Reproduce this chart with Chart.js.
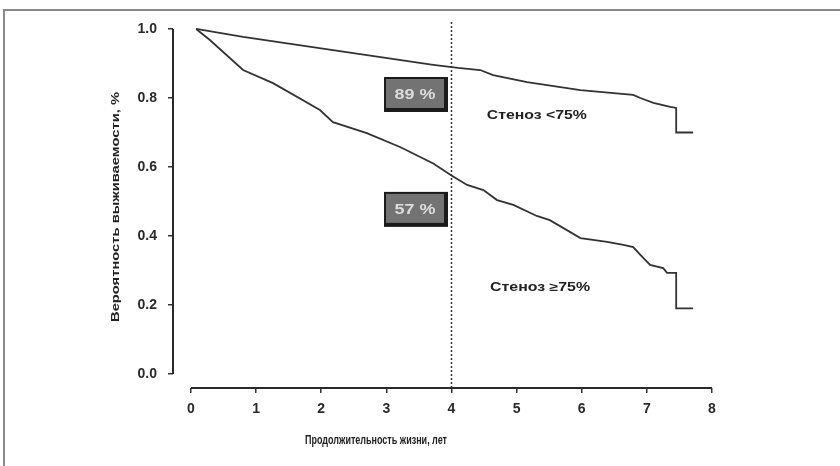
<!DOCTYPE html>
<html>
<head>
<meta charset="utf-8">
<script src="https://cdn.jsdelivr.net/npm/chart.js@4/dist/chart.umd.min.js"></script>
<style>
  html, body { margin: 0; padding: 0; background: #fff; }
  #wrap { width: 840px; height: 466px; position: relative; }
</style>
</head>
<body>
<div id="wrap"><canvas id="survivalChart"></canvas></div>
<script>
// Survival, stenosis < 75%
const mildX = [0.08, 0.8, 2.18, 3.72, 4.1, 4.44, 4.64, 5.16, 5.98, 6.79, 6.9, 7.1, 7.36, 7.45, 7.45, 7.71]
const mildY = [1.0, 0.977, 0.939, 0.896, 0.887, 0.881, 0.866, 0.846, 0.823, 0.809, 0.8, 0.786, 0.774, 0.771, 0.70, 0.70]

// Survival, stenosis >= 75%
const severeX = [0.08, 0.29, 0.8, 1.26, 1.98, 2.18, 2.7, 3.21, 3.72, 4.0, 4.24, 4.49, 4.7, 4.95, 5.31, 5.51, 5.98, 6.39, 6.64, 6.79, 6.9, 7.05, 7.25, 7.31, 7.45, 7.45, 7.71]
const severeY = [1.0, 0.968, 0.881, 0.843, 0.765, 0.73, 0.698, 0.658, 0.61, 0.575, 0.548, 0.533, 0.504, 0.49, 0.458, 0.446, 0.394, 0.383, 0.374, 0.368, 0.345, 0.316, 0.307, 0.293, 0.293, 0.19, 0.19]

const xTicks = [0, 1, 2, 3, 4, 5, 6, 7, 8]
const yTicks = [0, 0.2, 0.4, 0.6, 0.8, 1.0]
const markerYear = 4

const boxLabels = ['89 %', '57 %']
const boxX = [3.44, 3.44]
const boxY = [0.813, 0.48]

const groupLabels = ['Стеноз <75%', 'Стеноз ≥75%']
const groupX = [5.31, 5.36]
const groupY = [0.748, 0.249]

const xTitle = 'Продолжительность жизни, лет'
const yTitle = 'Вероятность выживаемости, %'

const Y_MIN = -0.0406, Y_MAX = 1.026
const X_MIN = -0.276, X_MAX = 8

const FONT = '"Liberation Sans", Arial, sans-serif'

const toPoints = (xs, ys) => xs.map((x, i) => ({ x: x, y: ys[i] }))

// Draw text squeezed/stretched to a given width (centred on x, y)
function drawFitted(ctx, text, x, y, width, rotate) {
  ctx.save()
  ctx.translate(x, y)
  if (rotate) ctx.rotate(-Math.PI / 2)
  const w = ctx.measureText(text).width
  ctx.scale(width / w, 1)
  ctx.textAlign = 'center'
  ctx.fillText(text, 0, 0)
  ctx.restore()
}

const decorPlugin = {
  id: 'decor',
  beforeDraw(chart) {
    const ctx = chart.ctx
    ctx.save()
    ctx.fillStyle = '#fff'
    ctx.fillRect(0, 0, chart.width, chart.height)
    // page frame
    ctx.strokeStyle = '#8a8a8a'
    ctx.lineWidth = 2
    ctx.beginPath()
    ctx.moveTo(4, chart.height)
    ctx.lineTo(4, 10)
    ctx.lineTo(chart.width, 10)
    ctx.stroke()
    ctx.restore()
  },
  afterDraw(chart) {
    const ctx = chart.ctx
    const xs = chart.scales.x, ys = chart.scales.y
    const area = chart.chartArea
    ctx.save()
    // axis lines (offset style)
    ctx.strokeStyle = '#2a2a2a'
    ctx.lineWidth = 2
    ctx.beginPath()
    ctx.moveTo(area.left, ys.getPixelForValue(0))
    ctx.lineTo(area.left, ys.getPixelForValue(1))
    ctx.moveTo(xs.getPixelForValue(0), area.bottom)
    ctx.lineTo(xs.getPixelForValue(8), area.bottom)
    ctx.stroke()

    // value boxes
    ctx.textBaseline = 'middle'
    boxLabels.forEach((label, i) => {
      const cx = xs.getPixelForValue(boxX[i])
      const cy = ys.getPixelForValue(boxY[i])
      const w = 62, h = 33
      ctx.fillStyle = '#1a1a1a'
      ctx.fillRect(cx - w / 2, cy - h / 2, w + 2, h + 2)
      ctx.fillStyle = '#737373'
      ctx.fillRect(cx - w / 2 + 2, cy - h / 2 + 2, w - 4, h - 4)
      ctx.fillStyle = '#dcdcdc'
      ctx.font = 'bold 15px ' + FONT
      drawFitted(ctx, label, cx, cy + 1, 41, false)
    })

    // group labels
    ctx.fillStyle = '#222'
    ctx.font = 'bold 12px ' + FONT
    groupLabels.forEach((label, i) => {
      drawFitted(ctx, label, xs.getPixelForValue(groupX[i]), ys.getPixelForValue(groupY[i]), 100, false)
    })

    // axis titles
    ctx.font = 'bold 12px ' + FONT
    drawFitted(ctx, xTitle, 376, 441, 142, false)
    ctx.font = 'bold 11px ' + FONT
    drawFitted(ctx, yTitle, 116, 207, 230, true)
    ctx.restore()
  }
}

const curveStyle = {
  borderColor: '#333',
  borderWidth: 1.8,
  pointRadius: 0,
  tension: 0,
  fill: false
}

new Chart(document.getElementById('survivalChart'), {
  type: 'line',
  data: {
    datasets: [
      Object.assign({ label: groupLabels[0], data: toPoints(mildX, mildY) }, curveStyle),
      Object.assign({ label: groupLabels[1], data: toPoints(severeX, severeY) }, curveStyle),
      {
        label: 'marker',
        data: [{ x: markerYear, y: Y_MIN }, { x: markerYear, y: Y_MAX }],
        borderColor: '#333',
        borderWidth: 1.5,
        borderDash: [2, 2],
        pointRadius: 0,
        fill: false
      }
    ]
  },
  options: {
    responsive: true,
    maintainAspectRatio: false,
    animation: false,
    layout: { padding: { top: 20, right: 128, bottom: 0, left: 0 } },
    plugins: {
      legend: { display: false },
      tooltip: { enabled: false }
    },
    scales: {
      x: {
        type: 'linear',
        min: X_MIN,
        max: X_MAX,
        afterBuildTicks: scale => { scale.ticks = xTicks.map(v => ({ value: v })) },
        afterFit: scale => { scale.height = 78 },
        border: { display: false },
        grid: {
          drawOnChartArea: false,
          drawTicks: true,
          tickLength: 5,
          color: '#333',
          lineWidth: 1.5
        },
        ticks: {
          padding: 8,
          color: '#2a2a2a',
          maxRotation: 0,
          font: { family: FONT, size: 14, weight: 'bold' },
          callback: v => String(v)
        }
      },
      y: {
        type: 'linear',
        min: Y_MIN,
        max: Y_MAX,
        afterBuildTicks: scale => { scale.ticks = yTicks.map(v => ({ value: v })) },
        afterFit: scale => { scale.width = 173 },
        border: { display: false },
        grid: {
          drawOnChartArea: false,
          drawTicks: true,
          tickLength: 5,
          color: '#333',
          lineWidth: 1.5
        },
        ticks: {
          padding: 11,
          color: '#2a2a2a',
          font: { family: FONT, size: 14, weight: 'bold' },
          callback: v => v.toFixed(1)
        }
      }
    }
  },
  plugins: [decorPlugin]
})
</script>
</body>
</html>
